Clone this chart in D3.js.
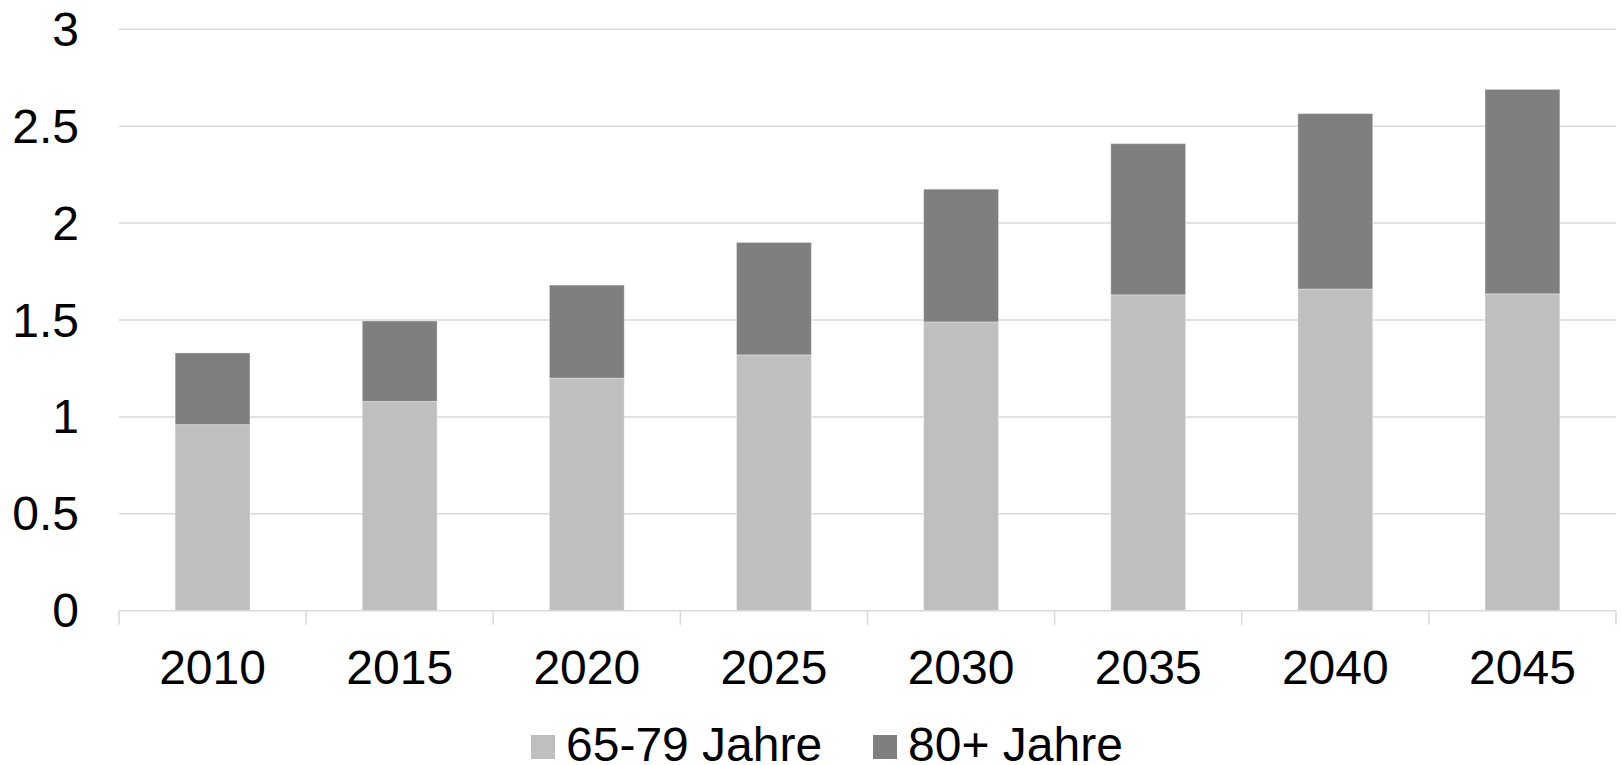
<!DOCTYPE html>
<html>
<head>
<meta charset="utf-8">
<script src="https://cdn.jsdelivr.net/npm/d3@7"></script>
<style>
  html, body { margin: 0; padding: 0; background: #fff; }
  svg { display: block; }
  text { font-family: "Liberation Sans", Arial, sans-serif; fill: #000; }
</style>
</head>
<body>
<svg id="chart" width="1621" height="765"></svg>
<script>
const years = ["2010", "2015", "2020", "2025", "2030", "2035", "2040", "2045"];
const age65to79 = [0.96, 1.08, 1.20, 1.32, 1.49, 1.63, 1.66, 1.635];
const age80plus = [0.37, 0.415, 0.48, 0.58, 0.685, 0.78, 0.905, 1.055];
const seriesNames = ["65-79 Jahre", "80+ Jahre"];
const seriesColors = ["#bfbfbf", "#7f7f7f"];
const yTicks = [0, 0.5, 1, 1.5, 2, 2.5, 3];

(function () {
const svg = d3.select("#chart");
const plotLeft = 119, plotRight = 1616, plotTop = 29.3, plotBottom = 610.7;

const x = d3.scaleBand().domain(years).range([plotLeft, plotRight])
  .paddingInner(0.6).paddingOuter(0.3);
const y = d3.scaleLinear().domain([0, 3]).range([plotBottom, plotTop]);

const rows = years.map((yr, i) => ({ year: yr, a: age65to79[i], b: age80plus[i] }));
const stacked = d3.stack().keys(["a", "b"])(rows);

// gridlines
svg.append("g").selectAll("line").data(yTicks.filter(t => t > 0)).join("line")
  .attr("x1", plotLeft).attr("x2", plotRight)
  .attr("y1", d => y(d)).attr("y2", d => y(d))
  .attr("stroke", "#d9d9d9").attr("stroke-width", 1.5);

// y tick labels
svg.append("g").selectAll("text").data(yTicks).join("text")
  .attr("x", 79).attr("y", d => y(d) + 16.5)
  .attr("text-anchor", "end")
  .attr("font-size", 48)
  .text(d => d3.format("")(d));

// bars
svg.append("g").selectAll("g").data(stacked).join("g")
  .attr("fill", (d, i) => seriesColors[i])
  .selectAll("rect").data(d => d).join("rect")
  .attr("x", d => x(d.data.year))
  .attr("width", x.bandwidth())
  .attr("y", d => y(d[1]))
  .attr("height", d => y(d[0]) - y(d[1]))
  .attr("stroke", "#ffffff").attr("stroke-opacity", 0.35).attr("stroke-width", 1);

// x axis line and ticks
svg.append("line").attr("x1", plotLeft).attr("x2", plotRight)
  .attr("y1", y(0)).attr("y2", y(0))
  .attr("stroke", "#d9d9d9").attr("stroke-width", 1.5);
const boundaries = d3.range(years.length + 1).map(i => plotLeft + i * x.step());
svg.append("g").selectAll("line").data(boundaries).join("line")
  .attr("x1", d => d).attr("x2", d => d)
  .attr("y1", y(0)).attr("y2", y(0) + 14)
  .attr("stroke", "#d9d9d9").attr("stroke-width", 1.5);

// x labels
svg.append("g").selectAll("text").data(years).join("text")
  .attr("x", d => x(d) + x.bandwidth() / 2)
  .attr("y", 684)
  .attr("text-anchor", "middle")
  .attr("font-size", 48)
  .text(d => d);

// legend
const legendX = [531, 873];
const lg = svg.append("g").selectAll("g").data(seriesNames).join("g")
  .attr("transform", (d, i) => `translate(${legendX[i]},0)`);
lg.append("rect").attr("x", 0).attr("y", 735).attr("width", 24).attr("height", 24)
  .attr("fill", (d, i) => seriesColors[i]);
lg.append("text").attr("x", 35).attr("y", 761).attr("font-size", 48).text(d => d);
})();
</script>
</body>
</html>
